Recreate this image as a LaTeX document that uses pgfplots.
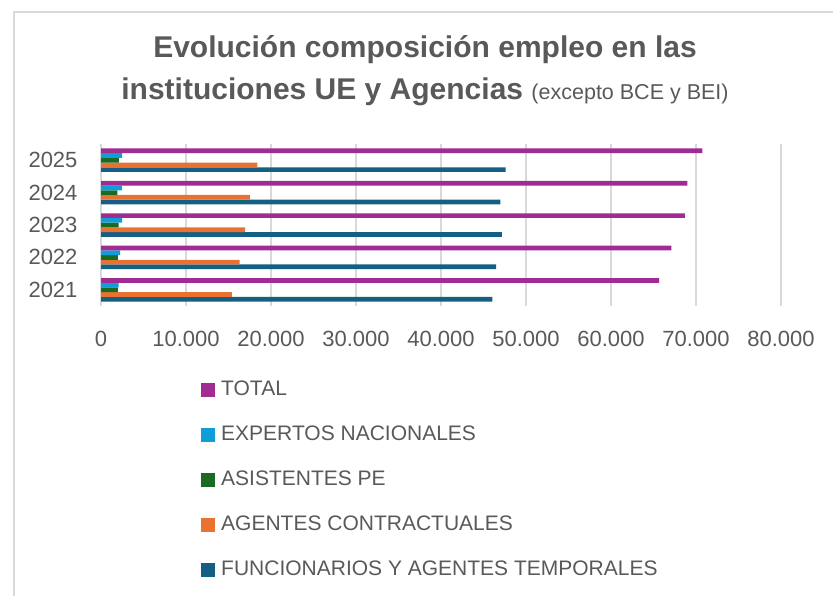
\documentclass[border=0pt]{standalone}
\usepackage{fontspec}
\setmainfont{Liberation Sans}
\usepackage{pgfplots}
\usepackage{pgfplotstable}
\pgfplotsset{compat=1.18}

\definecolor{cTotal}{HTML}{A02B93}
\definecolor{cExp}{HTML}{0F9ED5}
\definecolor{cAsi}{HTML}{196B24}
\definecolor{cAge}{HTML}{E97132}
\definecolor{cFun}{HTML}{156082}
\definecolor{txt}{HTML}{595959}
\definecolor{grd}{HTML}{D9D9D9}

% y: 1=2021 ... 5=2025
\pgfplotstableread{
y  fun   age   asi  exp  total
1  46050 15400 1980 2080 65650
2  46500 16300 1990 2260 67100
3  47150 16950 2060 2490 68700
4  47000 17500 1920 2450 69000
5  47600 18400 2100 2490 70760
}\datos

\begin{document}
\begin{tikzpicture}
\useasboundingbox (0pt,0pt) rectangle (833pt,-596pt);
\draw[grd, line width=1.2pt] (14pt,-600pt) -- (14pt,-12pt) -- (840pt,-12pt);

\node[text=txt, font=\fontsize{30}{36}\selectfont\bfseries] at (425pt,-50pt)
  {Evolución composición empleo en las};
\node[text=txt] at (425pt,-92pt)
  {\fontsize{30}{36}\selectfont\bfseries instituciones UE y Agencias
   \fontsize{21.5}{26}\selectfont\mdseries (excepto BCE y BEI)};

\begin{axis}[
  at={(101pt,-306pt)}, anchor=south west,
  scale only axis, width=680pt, height=162pt,
  xmin=0, xmax=80000, ymin=0.5, ymax=5.5,
  xtick={0,10000,...,80000},
  ytick={1,2,3,4,5}, yticklabels={2021,2022,2023,2024,2025},
  xmajorgrids, grid style={grd, line width=1.5pt},
  axis lines*=left,
  x axis line style={draw=none},
  y axis line style={grd, line width=1.5pt},
  major tick length=0pt,
  tick label style={font=\fontsize{22}{26}\selectfont, text=txt},
  xticklabel style={yshift=-22pt},
  yticklabel style={xshift=-20pt},
  scaled x ticks=false,
  /pgf/number format/1000 sep={.},
  /pgf/number format/assume math mode=true,
  xbar, bar width=4.7pt,
  reverse legend,
  legend cell align=left,
  legend style={at={(axis description cs:0,0)}, anchor=north west,
    xshift=100pt, yshift=-75pt, draw=none, fill=none, inner sep=0pt,
    row sep=28.8pt, font=\fontsize{21}{25}\selectfont, text=txt,
    nodes={inner sep=0pt}},
  legend image code/.code={\fill[#1] (0pt,-7.5pt) rectangle (14pt,6.5pt);},
]
\addplot[fill=cFun, draw=none, bar shift=-9.4pt] table[x=fun, y=y] {\datos};
\addlegendentry{\hspace{6pt}FUNCIONARIOS Y AGENTES TEMPORALES}
\addplot[fill=cAge, draw=none, bar shift=-4.7pt] table[x=age, y=y] {\datos};
\addlegendentry{\hspace{6pt}AGENTES CONTRACTUALES}
\addplot[fill=cAsi, draw=none, bar shift=0pt] table[x=asi, y=y] {\datos};
\addlegendentry{\hspace{6pt}ASISTENTES PE}
\addplot[fill=cExp, draw=none, bar shift=4.7pt] table[x=exp, y=y] {\datos};
\addlegendentry{\hspace{6pt}EXPERTOS NACIONALES}
\addplot[fill=cTotal, draw=none, bar shift=9.4pt] table[x=total, y=y] {\datos};
\addlegendentry{\hspace{6pt}TOTAL}
\end{axis}
\end{tikzpicture}
\end{document}
